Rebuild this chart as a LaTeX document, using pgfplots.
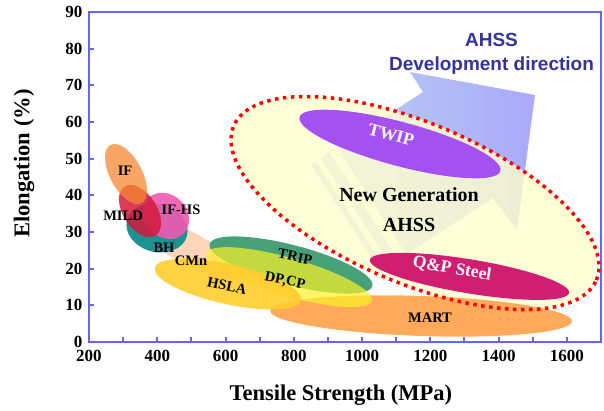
\documentclass[border=0pt]{standalone}
\usepackage{fontspec}
\setmainfont{Liberation Serif}
\newfontfamily\arialfont{Liberation Sans}
\usepackage{pgfplots}
\pgfplotsset{compat=1.18}
\definecolor{axblue}{RGB}{100,100,255}
\definecolor{txtblue}{RGB}{51,51,153}
\definecolor{ifc}{RGB}{245,135,50}
\definecolor{mildc}{RGB}{212,25,60}
\definecolor{ifhsc}{RGB}{240,90,175}
\definecolor{bhc}{RGB}{30,145,145}
\definecolor{cmnc}{RGB}{255,212,185}
\definecolor{hslac}{RGB}{255,205,45}
\definecolor{dpc}{RGB}{250,242,40}
\definecolor{tripc}{RGB}{70,160,120}
\definecolor{martc}{RGB}{255,170,90}
\definecolor{qpc}{RGB}{208,30,115}
\definecolor{twipc}{RGB}{165,80,240}
\definecolor{bigc}{RGB}{255,255,205}
\definecolor{arrL}{RGB}{185,205,240}
\definecolor{arrR}{RGB}{170,170,250}
% style, X, Y, semi-axis a (pt), semi-axis b (pt), rotation
\newcommand{\ellip}[6]{\fill[#1, rotate around={#6:(axis cs:#2,#3)}] (axis cs:#2,#3) ellipse [x radius=#4pt, y radius=#5pt];}
\begin{document}
\begin{tikzpicture}
\useasboundingbox (0,0) rectangle (604pt,410pt);
\begin{axis}[
  at={(89pt,68pt)}, anchor=south west,
  scale only axis, width=512pt, height=330pt,
  xmin=200, xmax=1700, ymin=0, ymax=90,
  clip=false,
  axis line style={axblue, line width=2.5pt},
  xtick={200,400,...,1600},
  minor xtick={300,500,...,1500},
  ytick={0,10,...,90},
  xtick pos=left, ytick pos=left,
  tick align=inside,
  major tick length=5pt, minor tick length=5pt,
  every tick/.style={axblue, line width=2pt},
  minor tick style={axblue, line width=2pt},
  /pgf/number format/assume math mode=true,
  /pgf/number format/1000 sep={},
  tick label style={font=\bfseries\fontsize{17}{17}\selectfont},
  yticklabel style={xshift=-3pt},
  xticklabel style={yshift=-5pt},
  xlabel={Tensile Strength (MPa)},
  ylabel={Elongation (\%)},
  every axis x label/.style={at={(axis description cs:0.492,-0.161)}, anchor=center, font=\bfseries\fontsize{22.5}{22.5}\selectfont},
  every axis y label/.style={at={(axis description cs:-0.127,0.541)}, rotate=90, anchor=center, font=\bfseries\fontsize{22.5}{22.5}\selectfont},
]
% development-direction arrow
\addplot[draw=none, left color=arrL, right color=arrR] coordinates {
 (1506.6,67.36) (1140.4,73.64) (1178.5,68.18) (926.3,52.99) (1129.6,23.86) (1383.6,39.27) (1453.9,30.55)} -- cycle;
\addplot[draw=none, fill=arrL] coordinates {
 (904.0,51.65) (879.4,50.15) (1082.7,21.03) (1107.3,22.53)} -- cycle;
\addplot[draw=none, fill=arrL] coordinates {
 (864.7,49.25) (849.8,48.38) (1053.5,19.25) (1068.1,20.13)} -- cycle;
% new generation AHSS region
\ellip{bigc, opacity=0.8}{1155.1}{37.9}{197}{80}{-23}
% steel families
\ellip{cmnc}{481.3}{26.2}{65}{16}{-28}
\ellip{martc}{1172.7}{7.1}{151}{20}{-2}
\ellip{tripc}{791.8}{21.0}{84}{20}{-14.5}
\ellip{dpc, opacity=0.7}{785.9}{17.7}{86}{19}{-16}
\ellip{hslac, opacity=0.9}{607.2}{15.8}{75}{20}{-12.5}
\ellip{qpc}{1314.8}{17.9}{101}{17}{-9.4}
\ellip{twipc}{1111.1}{54.0}{104}{22}{-15}
\ellip{bhc}{399.2}{31.1}{31}{24}{-15}
\ellip{ifhsc, opacity=0.9}{425.6}{34.4}{25}{21}{-45}
\ellip{mildc, opacity=0.85}{349.4}{35.7}{29}{17}{-58}
\ellip{ifc, opacity=0.75}{308.4}{45.8}{33}{16}{-62}
% dotted border
\draw[red, line width=3.5pt, dash pattern=on 3.5pt off 4.5pt, rotate around={-23:(axis cs:1155.1,37.9)}] (axis cs:1155.1,37.9) ellipse [x radius=197pt, y radius=80pt];
% labels
\tikzset{lab/.style={font=\bfseries\fontsize{14.5}{14.5}\selectfont, inner sep=0pt}}
\node[lab] at (axis cs:305.5,46.6) {IF};
\node[lab] at (axis cs:299.6,34.4) {MILD};
\node[lab] at (axis cs:469.5,36.0) {IF-HS};
\node[lab] at (axis cs:419.7,25.6) {BH};
\node[lab] at (axis cs:498.8,22.1) {CMn};
\node[lab, rotate=-12] at (axis cs:604.3,15.3) {HSLA};
\node[lab, rotate=-12] at (axis cs:774.2,16.6) {DP,CP};
\node[lab, rotate=-12] at (axis cs:803.5,23.2) {TRIP};
\node[lab] at (axis cs:1199,6.5) {MART};
\node[lab, white, rotate=-10, font=\bfseries\fontsize{17.5}{17.5}\selectfont] at (axis cs:1263.5,19.9) {Q\&P Steel};
\node[lab, white, rotate=-15, font=\bfseries\fontsize{17.5}{17.5}\selectfont] at (axis cs:1084.8,56.5) {TWIP};
\node[lab, font=\bfseries\fontsize{20}{20}\selectfont] at (axis cs:1137.5,40.1) {New Generation};
\node[lab, font=\bfseries\fontsize{20}{20}\selectfont] at (axis cs:1137.5,31.8) {AHSS};
\node[align=center, txtblue, inner sep=0pt, font=\arialfont\bfseries\fontsize{19}{24}\selectfont] at (axis cs:1379.2,78.6) {AHSS\\Development direction};
\end{axis}
\end{tikzpicture}
\end{document}
